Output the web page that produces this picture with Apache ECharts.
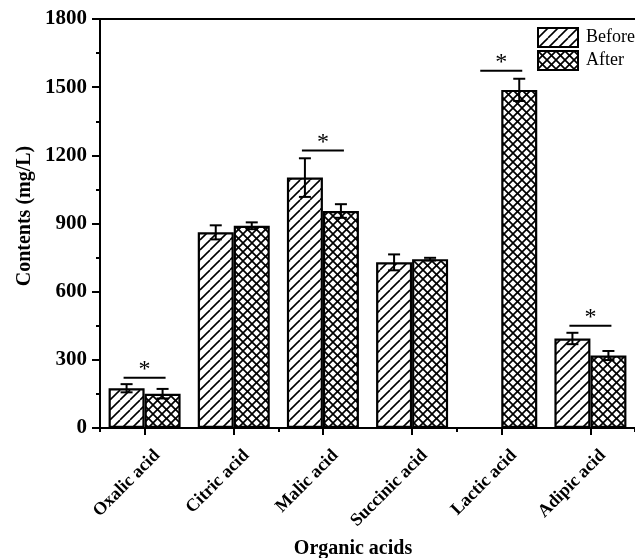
<!DOCTYPE html>
<html>
<head>
<meta charset="utf-8">
<script src="https://cdn.jsdelivr.net/npm/echarts@6/dist/echarts.min.js"></script>
<style>
html,body{margin:0;padding:0;background:#fff;}
#chart{width:635px;height:558px;}
</style>
</head>
<body>
<div id="chart"></div>
<script>
// ---- data ----
const categories = ['Oxalic acid', 'Citric acid', 'Malic acid', 'Succinic acid', 'Lactic acid', 'Adipic acid'];
const beforeValues = [175, 861, 1102, 729, 0, 394];
const afterValues = [151, 890, 955, 743, 1488, 319];
const beforeErrors = [18, 31, 85, 35, 0, 25];
const afterErrors = [21, 15, 30, 6, 49, 20];
// significance bracket levels (mg/L); null = none
const sigLevels = [221, null, 1221, null, 1572, 450];
const sigLabels = ['*', null, '*', null, '*', '*'];
const yMin = 0, yMax = 1800, yInterval = 300;
const seriesNames = ['Before', 'After'];

const SERIF = '"Liberation Serif", "Times New Roman", serif';

function hatch(cross) {
  const s = cross ? 9 : 10;
  const c = document.createElement('canvas');
  c.width = s; c.height = s;
  const g = c.getContext('2d');
  g.fillStyle = '#fff';
  g.fillRect(0, 0, s, s);
  g.strokeStyle = '#000';
  g.lineWidth = cross ? 1.7 : 1.6;
  const line = (x0, y0, x1, y1) => { g.beginPath(); g.moveTo(x0, y0); g.lineTo(x1, y1); g.stroke(); };
  for (const o of [-s, 0, s]) {
    line(o, s, o + s, 0);
    if (cross) line(o, 0, o + s, s);
  }
  return c;
}

const chart = echarts.init(document.getElementById('chart'), null, {renderer: 'canvas'});

const BAR_W = 36;

function errorItem(offsetSign) {
  return function (params, api) {
    const err = api.value(2);
    if (!err) return null;
    const c = api.coord([api.value(0), api.value(1)]);
    const top = api.coord([api.value(0), api.value(1) + err]);
    const bot = api.coord([api.value(0), api.value(1) - err]);
    const x = c[0] + offsetSign * BAR_W / 2;
    const cap = 6;
    const st = {stroke: '#000', lineWidth: 2};
    return {
      type: 'group',
      children: [
        {type: 'line', shape: {x1: x, y1: top[1], x2: x, y2: bot[1]}, style: st},
        {type: 'line', shape: {x1: x - cap, y1: top[1], x2: x + cap, y2: top[1]}, style: st},
        {type: 'line', shape: {x1: x - cap, y1: bot[1], x2: x + cap, y2: bot[1]}, style: st}
      ]
    };
  };
}

const option = {
  backgroundColor: '#fff',
  animation: false,
  grid: {left: 100, top: 19, right: -11, bottom: 130, containLabel: false},
  legend: {
    data: seriesNames,
    orient: 'vertical',
    left: 537, top: 27, padding: 0,
    itemWidth: 40, itemHeight: 19, itemGap: 2,
    icon: 'rect',
    itemStyle: {borderColor: '#000', borderWidth: 2},
    textStyle: {fontFamily: SERIF, fontSize: 18, color: '#000', padding: [0, 0, 0, 3]}
  },
  xAxis: [
    {
      type: 'category', data: categories, position: 'bottom',
      axisLine: {show: true, lineStyle: {color: '#000', width: 2}},
      axisTick: {show: true, alignWithLabel: true, inside: false, length: 7, lineStyle: {color: '#000', width: 2}},
      axisLabel: {rotate: 45, margin: 12, color: '#000', fontFamily: SERIF, fontWeight: 'bold', fontSize: 18,
                  interval: 0, verticalAlign: 'top', padding: [9, 0, 0, 0]},
      splitLine: {show: false}
    },
    {
      type: 'category', data: categories, position: 'bottom',
      axisLine: {show: false},
      axisTick: {show: true, alignWithLabel: false, length: 4, lineStyle: {color: '#000', width: 2}},
      axisLabel: {show: false},
      splitLine: {show: false}
    },
    {
      type: 'category', data: categories, position: 'top',
      axisLine: {show: true, lineStyle: {color: '#000', width: 2}},
      axisTick: {show: false}, axisLabel: {show: false}, splitLine: {show: false}
    }
  ],
  yAxis: {
    type: 'value', min: yMin, max: yMax, interval: yInterval,
    axisLine: {show: true, lineStyle: {color: '#000', width: 2}},
    axisTick: {show: true, inside: false, length: 8, lineStyle: {color: '#000', width: 2}},
    minorTick: {show: true, splitNumber: 2, length: 4, lineStyle: {color: '#000', width: 2}},
    axisLabel: {margin: 13, color: '#000', fontFamily: SERIF, fontWeight: 'bold', fontSize: 21,
                formatter: v => String(v)},
    splitLine: {show: false}
  },
  graphic: [
    {type: 'text', x: 25, y: 216, rotation: Math.PI / 2,
     style: {text: 'Contents (mg/L)', font: 'bold 20px ' + SERIF, fill: '#000', align: 'center', verticalAlign: 'middle'}},
    {type: 'text', x: 353, y: 549,
     style: {text: 'Organic acids', font: 'bold 20px ' + SERIF, fill: '#000', align: 'center', verticalAlign: 'middle'}}
  ],
  series: [
    {
      name: seriesNames[0], type: 'bar', xAxisIndex: 0, data: beforeValues,
      barWidth: BAR_W, barGap: '0%',
      itemStyle: {color: {image: hatch(false), repeat: 'repeat'}, borderColor: '#000', borderWidth: 2.2}
    },
    {
      name: seriesNames[1], type: 'bar', xAxisIndex: 0, data: afterValues,
      barWidth: BAR_W, barGap: '0%',
      itemStyle: {color: {image: hatch(true), repeat: 'repeat'}, borderColor: '#000', borderWidth: 2.2}
    },
    {
      type: 'custom', xAxisIndex: 0, z: 5, silent: true,
      data: beforeValues.map((v, i) => [i, v, beforeErrors[i]]),
      renderItem: errorItem(-1)
    },
    {
      type: 'custom', xAxisIndex: 0, z: 5, silent: true,
      data: afterValues.map((v, i) => [i, v, afterErrors[i]]),
      renderItem: errorItem(1)
    },
    {
      type: 'custom', xAxisIndex: 0, z: 5, silent: true,
      data: sigLevels.map((v, i) => [i, v, sigLabels[i]]).filter(d => d[1] != null),
      renderItem: function (params, api) {
        const c = api.coord([api.value(0), api.value(1)]);
        const half = 21;
        return {
          type: 'group',
          children: [
            {type: 'line', shape: {x1: c[0] - half, y1: c[1], x2: c[0] + half, y2: c[1]}, style: {stroke: '#000', lineWidth: 2}},
            {type: 'text', x: c[0], y: c[1] - 8,
             style: {text: '*', font: '24px ' + SERIF, fill: '#000', align: 'center', verticalAlign: 'middle'}}
          ]
        };
      }
    }
  ]
};
chart.setOption(option);
</script>
</body>
</html>
